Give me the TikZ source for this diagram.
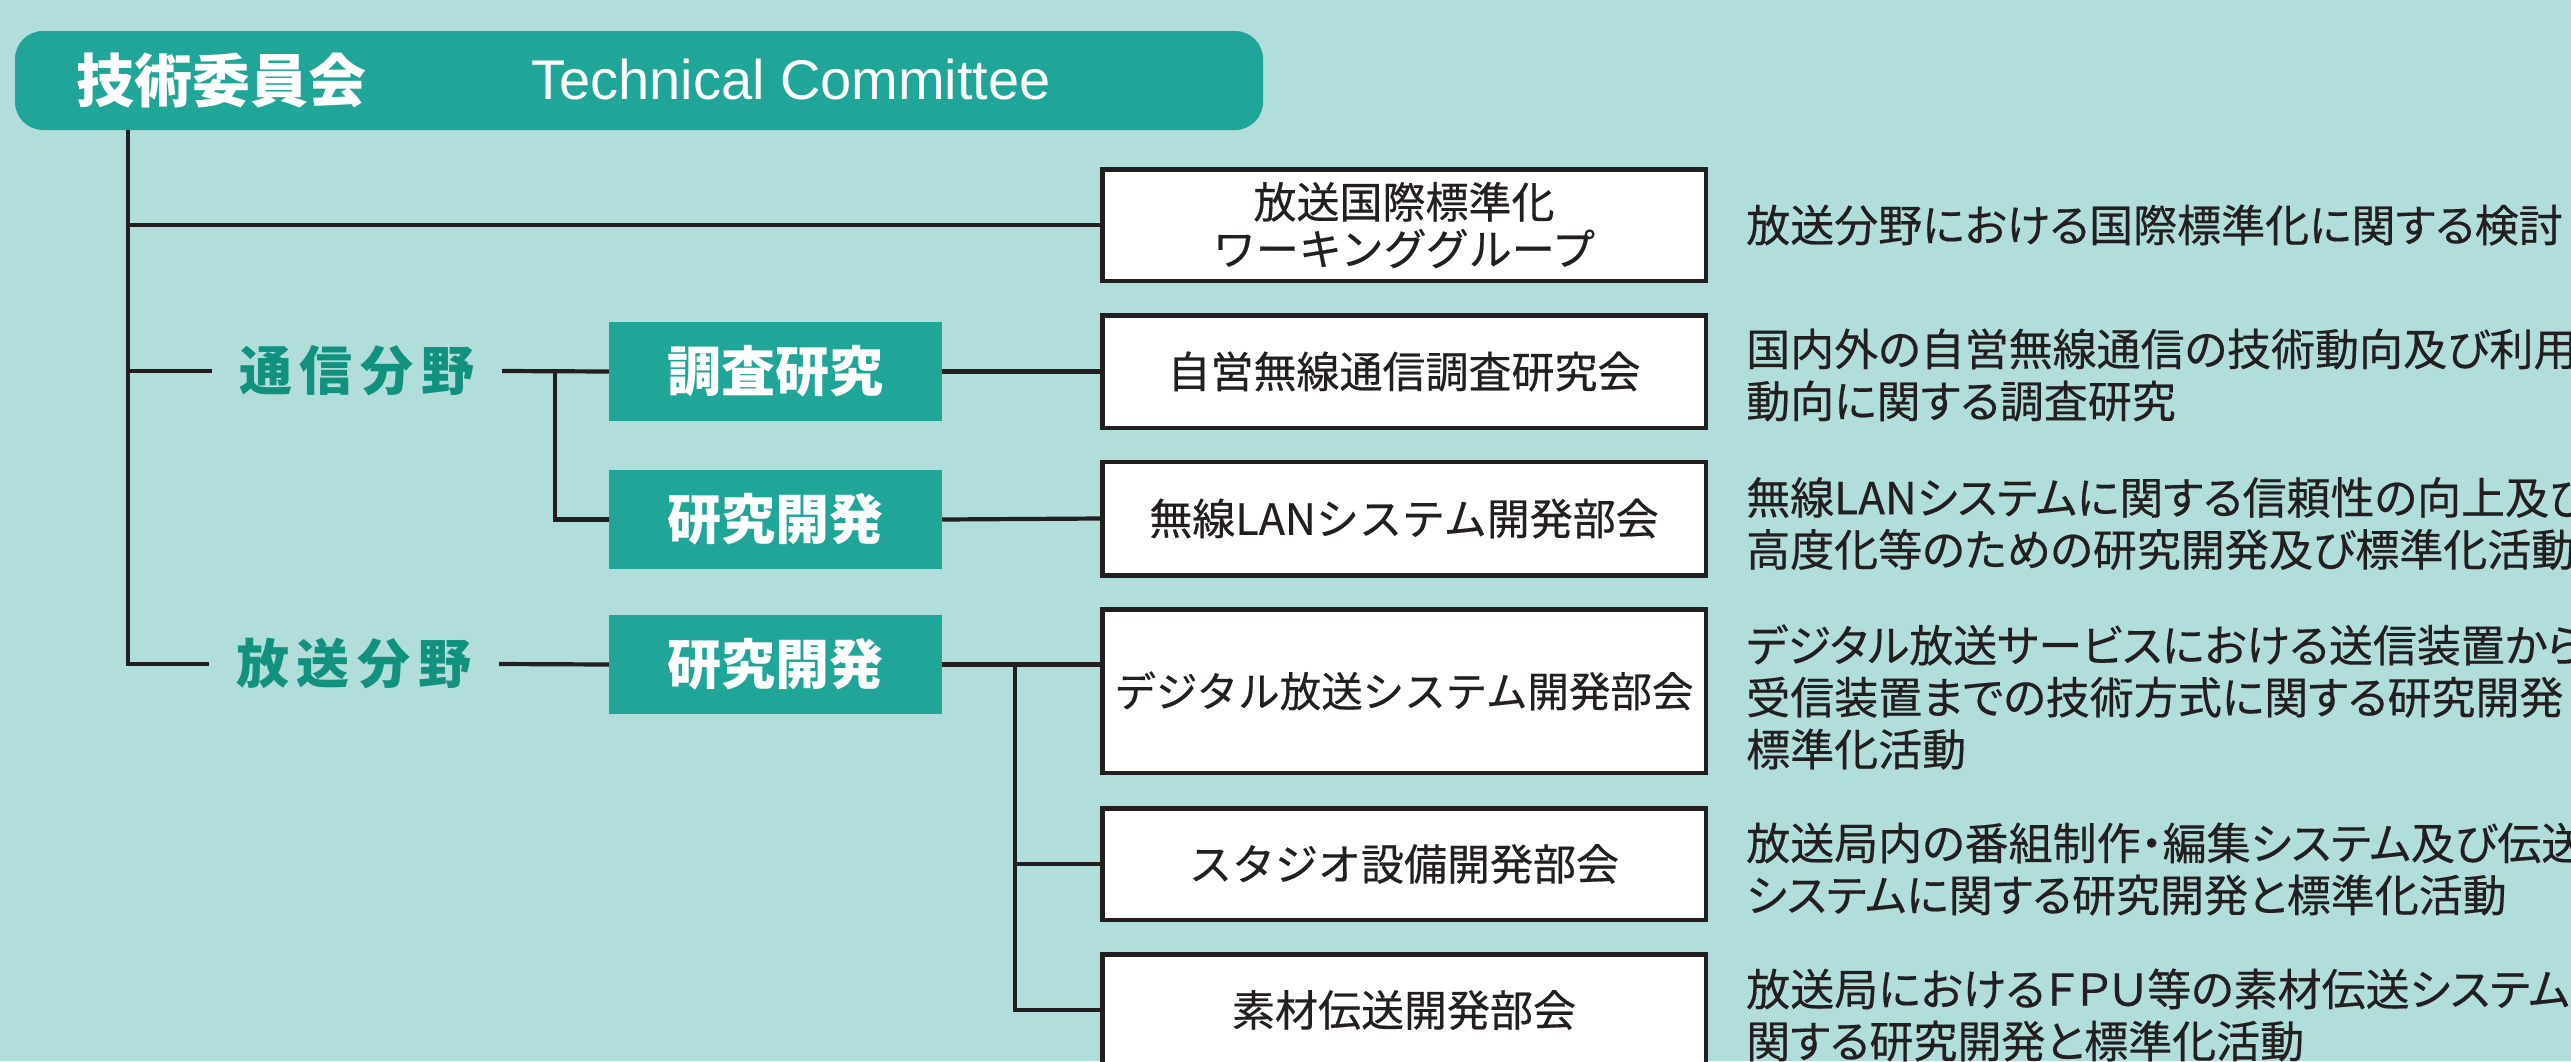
\documentclass[tikz,border=0pt]{standalone}
\usepackage{fontspec}
\setmainfont{Liberation Sans}
\newfontfamily\jp[RawFeature={+palt},FakeBold=0.4]{Noto Sans CJK JP}
\newfontfamily\jpm[FakeBold=0.4]{Noto Sans CJK JP}
\newfontfamily\jpf{Noto Sans CJK JP}
\definecolor{bgc}{HTML}{B1DEDB}
\definecolor{grn}{HTML}{20A698}
\definecolor{tealtxt}{HTML}{13917F}
\definecolor{ink}{HTML}{231F20}
\tikzset{
  wbox/.style={draw=ink, line width=4.5pt, fill=white, minimum width=603.5pt, inner sep=0pt,
    align=center, text=ink, font=\jpm\fontsize{43}{47}\selectfont},
  gbox/.style={fill=grn, minimum width=333pt, minimum height=99pt, inner sep=0pt,
    text=white, font=\jpf\bfseries\fontsize{54}{54}\selectfont},
  field/.style={text=tealtxt, font=\jpf\bfseries\fontsize{53}{53}\selectfont,
    inner xsep=27pt, inner ysep=0pt},
  desc/.style={anchor=west, align=left, inner sep=0pt, text=ink,
    font=\jp\fontsize{44}{52}\selectfont},
  conn/.style={draw=ink, line width=4.2pt},
}
\newcommand{\fsp}{\hspace{8pt}}
\begin{document}
\begin{tikzpicture}[x=1pt,y=-1pt]
\useasboundingbox (0,0) rectangle (2571,1061);
\clip (0,0) rectangle (2571,1061);
\fill[bgc] (0,0) rectangle (2571,1061);

% top committee box
\node[fill=grn, rounded corners=28pt, minimum width=1248pt, minimum height=99pt, inner sep=0pt] (tc) at (639,80.5) {};
\node[anchor=west, inner sep=0pt, text=white, font=\jpf\bfseries\fontsize{58}{58}\selectfont] (tcj) at (76,81) {技術委員会};
\node[anchor=base west, inner sep=0pt, text=white, font=\fontsize{56}{56}\selectfont] (tce) at (531,99) {Technical Committee};

% field labels
\node[field] (tsu) at (357,371) {通\fsp 信\fsp 分\fsp 野};
\node[field] (hou) at (354,664) {放\fsp 送\fsp 分\fsp 野};

% green boxes
\node[gbox] (g1) at (775.5,371.5) {調査研究};
\node[gbox] (g2) at (775.5,519.5) {研究開発};
\node[gbox] (g3) at (775.5,664.5) {研究開発};

% white boxes
\node[wbox, minimum height=111.5pt] (b1) at (1404,225) {放送国際標準化\\ワーキンググループ};
\node[wbox, minimum height=112.5pt] (b2) at (1404,371.5) {自営無線通信調査研究会};
\node[wbox, minimum height=113.5pt] (b3) at (1404,518.5) {無線LANシステム開発部会};
\node[wbox, minimum height=163.5pt, font=\jpm\fontsize{41.5}{47}\selectfont] (b4) at (1404,691) {デジタル放送システム開発部会};
\node[wbox, minimum height=111.5pt] (b5) at (1404,864) {スタジオ設備開発部会};
\node[wbox, minimum height=111.5pt] (b6) at (1404,1010) {素材伝送開発部会};

% descriptions
\node[desc] (d1) at (1746,225) {放送分野における国際標準化に関する検討};
\node[desc] (d2) at (1746,375) {国内外の自営無線通信の技術動向及び利用\\動向に関する調査研究};
\node[desc] (d3) at (1746,523.5) {無線LANシステムに関する信頼性の向上及び\\高度化等のための研究開発及び標準化活動};
\node[desc] (d4) at (1746,697) {デジタル放送サービスにおける送信装置から\\受信装置までの技術方式に関する研究開発と\\標準化活動};
\node[desc] (d5) at (1746,869) {放送局内の番組制作・編集システム及び伝送\\システムに関する研究開発と標準化活動};
\node[desc] (d6) at (1746,1015) {放送局におけるＦＰＵ等の素材伝送システムに\\関する研究開発と標準化活動};

% connector coordinates
\coordinate (tr) at (128,0);
\coordinate (br1) at (555,0);
\coordinate (br2) at (1015,0);

% connectors
\draw[conn] (tc.south -| tr) |- (hou.west);
\draw[conn] (tr |- b1.west) -- (b1.west);
\draw[conn] (tr |- tsu.west) -- (tsu.west);
\draw[conn] (tsu.east) -- (g1.west);
\draw[conn] (br1 |- g1.west) |- (g2.west);
\draw[conn] (g1.east) -- (b2.west);
\draw[conn] (g2.east) -- (b3.west);
\draw[conn] (hou.east) -- (g3.west);
\draw[conn] (g3.east) -- (g3.east -| b4.west);
\draw[conn] (br2 |- g3.east) |- (b6.west);
\draw[conn] (br2 |- b5.west) -- (b5.west);
\end{tikzpicture}
\end{document}
